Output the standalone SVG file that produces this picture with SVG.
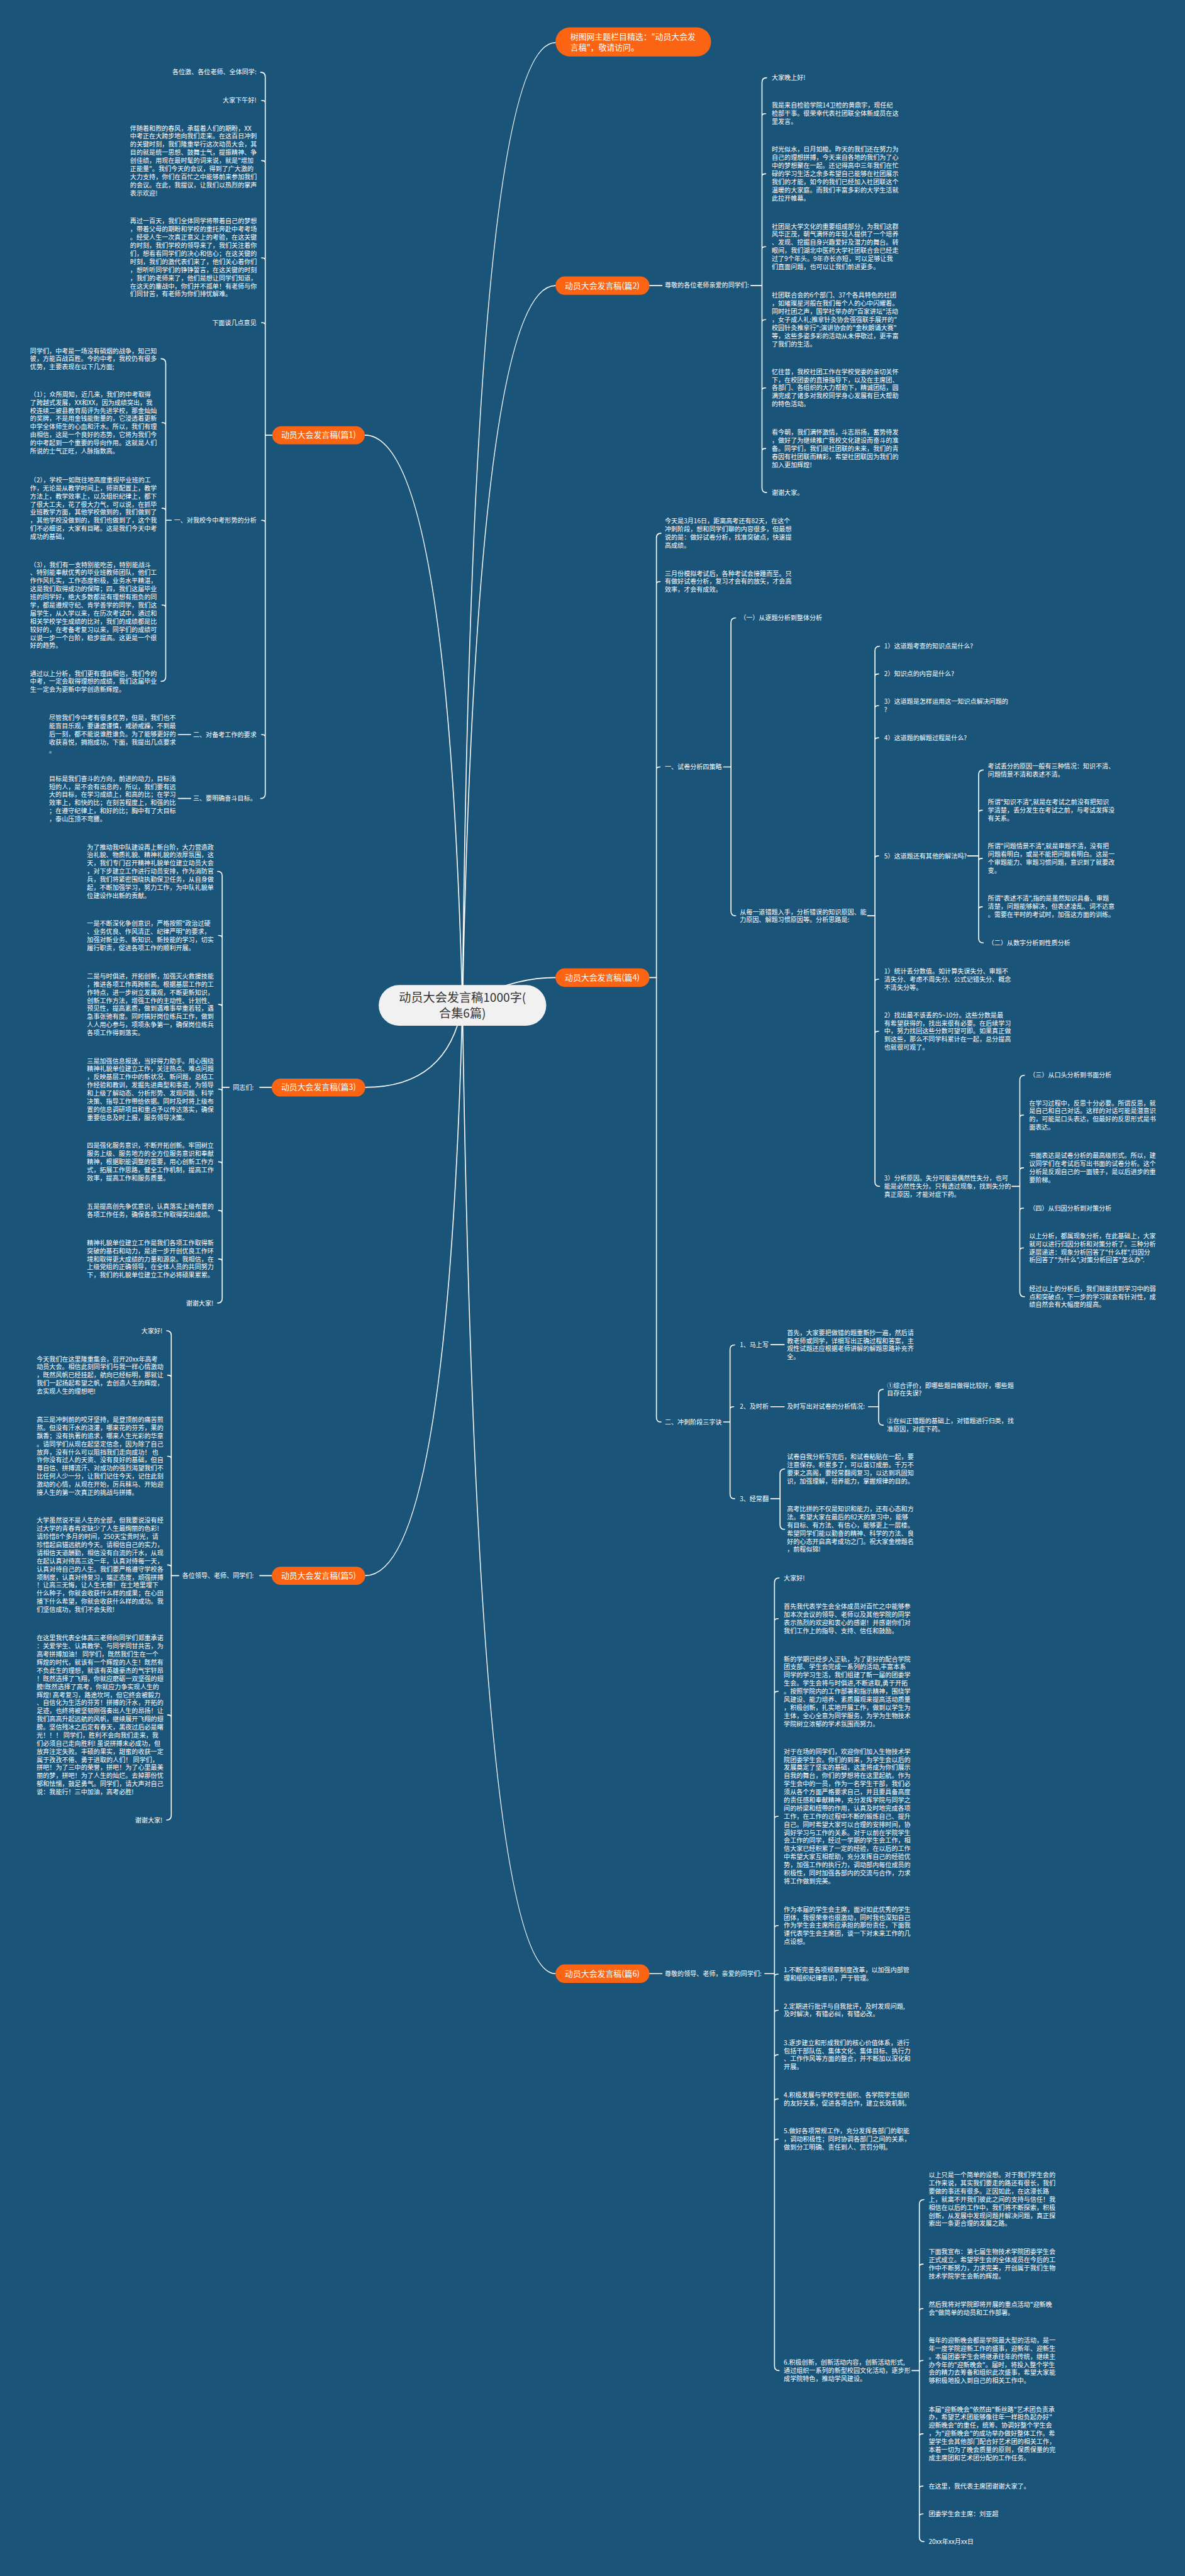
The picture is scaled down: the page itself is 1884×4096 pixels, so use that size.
<svg xmlns="http://www.w3.org/2000/svg" width="1884" height="4096" viewBox="0 0 1884 4096">
<style>
.t{font-family:"Noto Sans CJK SC","Noto Sans",sans-serif;font-size:13.7px;fill:#ffffff}
.e{text-anchor:end}
.n{fill:#fb6412}
.nt{font-family:"Noto Sans CJK SC","Noto Sans",sans-serif;font-size:17.5px;fill:#ffffff;text-anchor:middle}
.c{fill:none;stroke:#ffffff;stroke-width:2.2;stroke-linecap:round}
</style>
<rect x="0" y="0" width="1884" height="4096" fill="#1a5479"/>
<g transform="scale(0.736)">
<g id="connectors">
<path class="c" d="M999,2172 Q1020,92 1200,92"/>
<path class="c" d="M999,2172 Q1030,617 1200,617"/>
<path class="c" d="M999,2172 Q1100,2112 1200,2112"/>
<path class="c" d="M999,2172 Q1030,4264 1200,4264"/>
<path class="c" d="M999,2172 Q967,940 788,940"/>
<path class="c" d="M999,2172 Q967,2349 789,2349"/>
<path class="c" d="M999,2172 Q967,3404 789,3404"/>
<path class="c" d="M588,940 L573,940 M1403,617 L1430,617 M1622,617 L1646,617 M587,2349 L561,2349 M495,2349 L480,2349 M1403,2112 L1418,2112 M587,3404 L561,3404 M386,3404 L370,3404 M1403,4264 L1430,4264 M1652,4264 L1673,4264"/>
<path class="c" d="M370,1124 L358,1124 M412,1587 L385,1587 M412,1725 L385,1725 M1563,1657 L1579,1657 M1874,1978.5 L1890,1978.5 M2090,1849 L2114,1849 M2186,2563 L2203,2563 M1563,3072 L1577,3072 M1665,2905 L1694,2905 M1665,3039 L1694,3039 M1876,3039 L1898,3039 M1665,3238 L1685,3238 M1970,5121.5 L1986,5121.5"/>
<path class="c" d="M1656,168 Q1646,168 1646,178 L1646,1054 Q1646,1064 1656,1064 M1646,250.5 Q1646,245.5 1654,245.5 M1646,380.5 Q1646,375.5 1654,375.5 M1646,538 Q1646,533 1654,533 M1646,695.5 Q1646,690.5 1654,690.5 M1646,843 Q1646,838 1654,838 M1646,974 Q1646,969 1654,969"/>
<path class="c" d="M1428,1152 Q1418,1152 1418,1162 L1418,3062 Q1418,3072 1428,3072 M1418,1261.5 Q1418,1256.5 1426,1256.5 M1418,1662 Q1418,1657 1426,1657"/>
<path class="c" d="M1589,1335 Q1579,1335 1579,1345 L1579,1968.5 Q1579,1978.5 1589,1978.5"/>
<path class="c" d="M1900,1396 Q1890,1396 1890,1406 L1890,2553 Q1890,2563 1900,2563 M1890,1461 Q1890,1456 1898,1456 M1890,1529.5 Q1890,1524.5 1898,1524.5 M1890,1599 Q1890,1594 1898,1594 M1890,1854 Q1890,1849 1898,1849 M1890,2120.5 Q1890,2115.5 1898,2115.5 M1890,2233 Q1890,2228 1898,2228"/>
<path class="c" d="M2124,1663.5 Q2114,1663.5 2114,1673.5 L2114,2027 Q2114,2037 2124,2037 M2114,1755.5 Q2114,1750.5 2122,1750.5 M2114,1859.5 Q2114,1854.5 2122,1854.5 M2114,1964 Q2114,1959 2122,1959"/>
<path class="c" d="M2213,2323 Q2203,2323 2203,2333 L2203,2791.5 Q2203,2801.5 2213,2801.5 M2203,2414 Q2203,2409 2211,2409 M2203,2528 Q2203,2523 2211,2523 M2203,2615 Q2203,2610 2211,2610 M2203,2701 Q2203,2696 2211,2696"/>
<path class="c" d="M1587,2905.5 Q1577,2905.5 1577,2915.5 L1577,3228 Q1577,3238 1587,3238 M1577,3044 Q1577,3039 1585,3039"/>
<path class="c" d="M1908,3001.5 Q1898,3001.5 1898,3011.5 L1898,3069 Q1898,3079 1908,3079"/>
<path class="c" d="M1695,3173.5 Q1685,3173.5 1685,3183.5 L1685,3294 Q1685,3304 1695,3304"/>
<path class="c" d="M1683,3409 Q1673,3409 1673,3419 L1673,5111.5 Q1673,5121.5 1683,5121.5 M1673,3502 Q1673,3497 1681,3497 M1673,3659 Q1673,3654 1681,3654 M1673,3929 Q1673,3924 1681,3924 M1673,4165 Q1673,4160 1681,4160 M1673,4270 Q1673,4265 1681,4265 M1673,4348 Q1673,4343 1681,4343 M1673,4444 Q1673,4439 1681,4439 M1673,4539.5 Q1673,4534.5 1681,4534.5 M1673,4626.5 Q1673,4621.5 1681,4621.5"/>
<path class="c" d="M1996,4752 Q1986,4752 1986,4762 L1986,5481 Q1986,5491 1996,5491 M1986,4896.5 Q1986,4891.5 1994,4891.5 M1986,4992.5 Q1986,4987.5 1994,4987.5 M1986,5104.5 Q1986,5099.5 1994,5099.5 M1986,5263 Q1986,5258 1994,5258 M1986,5376 Q1986,5371 1994,5371 M1986,5436 Q1986,5431 1994,5431"/>
<path class="c" d="M563,156 Q573,156 573,166 L573,1715 Q573,1725 563,1725 M573,222 Q573,217 565,217 M573,352 Q573,347 565,347 M573,562 Q573,557 565,557 M573,702 Q573,697 565,697 M573,1129 Q573,1124 565,1124 M573,1592 Q573,1587 565,1587"/>
<path class="c" d="M348,775 Q358,775 358,785 L358,1462 Q358,1472 348,1472 M358,918 Q358,913 350,913 M358,1103 Q358,1098 350,1098 M358,1312 Q358,1307 350,1307"/>
<path class="c" d="M470,1882.5 Q480,1882.5 480,1892.5 L480,2805 Q480,2815 470,2815 M480,2026 Q480,2021 472,2021 M480,2175 Q480,2170 472,2170 M480,2358 Q480,2353 472,2353 M480,2515 Q480,2510 472,2510 M480,2620 Q480,2615 472,2615 M480,2725 Q480,2720 472,2720"/>
<path class="c" d="M360,2875 Q370,2875 370,2885 L370,3922 Q370,3932 360,3932 M370,2976 Q370,2971 362,2971 M370,3151 Q370,3146 362,3146 M370,3386 Q370,3381 362,3381 M370,3710 Q370,3705 362,3705"/>
</g>
<g id="root">
<rect x="818" y="2128" width="362" height="88" rx="44" fill="#f1f1f1"/>
<text x="999" y="2165" font-family="Noto Sans CJK SC, Noto Sans, sans-serif" font-size="26" fill="#333333" text-anchor="middle"><tspan x="999">动员大会发言稿1000字(</tspan><tspan x="999" dy="34">合集6篇)</tspan></text>
</g>
<g id="topnote">
<rect class="n" x="1200" y="59" width="336" height="63" rx="31"/>
<text class="nt" x="1232" y="85" style="text-anchor:start"><tspan x="1232">树图网主题栏目精选："动员大会发</tspan><tspan x="1232" dy="24">言稿"，敬请访问。</tspan></text>
</g>
<g id="p1"><rect class="n" x="588" y="921" width="200" height="39" rx="19.5"/><text class="nt" x="688" y="946">动员大会发言稿(篇1)</text></g>
<g id="p2"><rect class="n" x="1200" y="597" width="203" height="40" rx="20"/><text class="nt" x="1301" y="623">动员大会发言稿(篇2)</text></g>
<g id="p3"><rect class="n" x="587" y="2330" width="202" height="39" rx="19.5"/><text class="nt" x="688" y="2355">动员大会发言稿(篇3)</text></g>
<g id="p4"><rect class="n" x="1200" y="2092" width="203" height="40" rx="20"/><text class="nt" x="1301" y="2118">动员大会发言稿(篇4)</text></g>
<g id="p5"><rect class="n" x="587" y="3385" width="202" height="39" rx="19.5"/><text class="nt" x="688" y="3410">动员大会发言稿(篇5)</text></g>
<g id="p6"><rect class="n" x="1200" y="4244" width="203" height="40" rx="20"/><text class="nt" x="1301" y="4270">动员大会发言稿(篇6)</text></g>

<g id="p1-texts">
<text class="t e" x="554" y="161">各位激、各位老师、全体同学:</text>
<text class="t e" x="554" y="222">大家下午好!</text>
<text class="t" x="281" y="282"><tspan x="281">伴随着和煦的春风，承载着人们的期盼，XX</tspan><tspan x="281" dy="17.5">中考正在大跨步地向我们走来。在这百日冲刺</tspan><tspan x="281" dy="17.5">的关键时刻，我们隆重举行这次动员大会，其</tspan><tspan x="281" dy="17.5">目的就是统一思想、鼓舞士气，提振精神、争</tspan><tspan x="281" dy="17.5">创佳绩，用现在最时髦的词来说，就是"增加</tspan><tspan x="281" dy="17.5">正能量"。我们今天的会议，得到了广大激的</tspan><tspan x="281" dy="17.5">大力支持，你们在百忙之中能够前来参加我们</tspan><tspan x="281" dy="17.5">的会议。在此，我提议，让我们以热烈的掌声</tspan><tspan x="281" dy="17.5">表示欢迎!</tspan></text>
<text class="t" x="281" y="483"><tspan x="281">再过一百天，我们全体同学将带着自己的梦想</tspan><tspan x="281" dy="17.5">，带着父母的期盼和学校的重托奔赴中考考场</tspan><tspan x="281" dy="17.5">。经受人生一次真正意义上的考验，在这关键</tspan><tspan x="281" dy="17.5">的时刻，我们学校的领导来了，我们关注着你</tspan><tspan x="281" dy="17.5">们，想看看同学们的决心和信心；在这关键的</tspan><tspan x="281" dy="17.5">时刻，我们的激代表们来了，他们关心着你们</tspan><tspan x="281" dy="17.5">，想听听同学们的铮铮誓言，在这关键的时刻</tspan><tspan x="281" dy="17.5">，我们的老师来了，他们是想让同学们知道，</tspan><tspan x="281" dy="17.5">在这天的鏖战中，你们并不孤单！有老师与你</tspan><tspan x="281" dy="17.5">们同甘苦，有老师为你们排忧解难。</tspan></text>
<text class="t e" x="554" y="702">下面谈几点意见</text>
<text class="t e" x="554" y="1129">一、对我校今中考形势的分析</text>
<text class="t e" x="554" y="1592">二、对备考工作的要求</text>
<text class="t e" x="554" y="1730">三、要明确奋斗目标。</text>
<text class="t" x="65" y="763"><tspan x="65">同学们，中考是一场没有硝烟的战争，知己知</tspan><tspan x="65" dy="17.5">彼，方能百战百胜。今的中考，我校仍有很多</tspan><tspan x="65" dy="17.5">优势，主要表现在以下几方面;</tspan></text>
<text class="t" x="65" y="857"><tspan x="65">（1）；众所周知，近几来，我们的中考取得</tspan><tspan x="65" dy="17.5">了跨越式发展，XX和XX，因为成绩突出，我</tspan><tspan x="65" dy="17.5">校连续二被县教育局评为先进学校，那金灿灿</tspan><tspan x="65" dy="17.5">的奖牌，不是用金钱能衡量的，它浸透着更新</tspan><tspan x="65" dy="17.5">中学全体师生的心血和汗水。所以，我们有理</tspan><tspan x="65" dy="17.5">由相信，这是一个良好的态势，它将为我们今</tspan><tspan x="65" dy="17.5">的中考起到一个重要的导向作用。这就是人们</tspan><tspan x="65" dy="17.5">所说的士气正旺，人脉指数高。</tspan></text>
<text class="t" x="65" y="1042"><tspan x="65">（2），学校一如既往地高度重视毕业班的工</tspan><tspan x="65" dy="17.5">作，无论是从教学时间上，师资配置上，教学</tspan><tspan x="65" dy="17.5">方法上，教学效率上，以及组织纪律上，都下</tspan><tspan x="65" dy="17.5">了很大工夫，花了很大力气，可以说，在抓毕</tspan><tspan x="65" dy="17.5">业班教学方面，其他学校做到的，我们做到了</tspan><tspan x="65" dy="17.5">，其他学校没做到的，我们也做到了，这个我</tspan><tspan x="65" dy="17.5">们不必细说，大家有目睹。这是我们今天中考</tspan><tspan x="65" dy="17.5">成功的基础，</tspan></text>
<text class="t" x="65" y="1225"><tspan x="65">（3），我们有一支特别能吃苦，特别能战斗</tspan><tspan x="65" dy="17.5">、特别能奉献优秀的毕业班教师团队，他们工</tspan><tspan x="65" dy="17.5">作作风扎实，工作态度积极，业务水平精湛，</tspan><tspan x="65" dy="17.5">这是我们取得成功的保障；四，我们这届毕业</tspan><tspan x="65" dy="17.5">班的同学好，绝大多数都是有理想有抱负的同</tspan><tspan x="65" dy="17.5">学，都是遵规守纪、肯学善学的同学，我们这</tspan><tspan x="65" dy="17.5">届学生，从入学以来，在历次考试中，通过和</tspan><tspan x="65" dy="17.5">相关学校学生成绩的比对，我们的成绩都是比</tspan><tspan x="65" dy="17.5">较好的，在考备考复习以来，同学们的成绩可</tspan><tspan x="65" dy="17.5">以说一步一个台阶，稳步提高。这更是一个很</tspan><tspan x="65" dy="17.5">好的趋势。</tspan></text>
<text class="t" x="65" y="1460"><tspan x="65">通过以上分析，我们更有理由相信，我们今的</tspan><tspan x="65" dy="17.5">中考，一定会取得理想的成绩，我们这届毕业</tspan><tspan x="65" dy="17.5">生一定会为更新中学创造新辉煌。</tspan></text>
<text class="t" x="106" y="1556"><tspan x="106">尽管我们今中考有很多优势，但是，我们也不</tspan><tspan x="106" dy="17.5">能盲目乐观，要谦虚谨慎，戒骄戒躁，不到最</tspan><tspan x="106" dy="17.5">后一刻，都不能说谁胜谁负。为了能够更好的</tspan><tspan x="106" dy="17.5">收获喜悦，拥抱成功，下面，我提出几点要求</tspan><tspan x="106" dy="17.5">。</tspan></text>
<text class="t" x="106" y="1687"><tspan x="106">目标是我们奋斗的方向，前进的动力，目标浅</tspan><tspan x="106" dy="17.5">短的人，是不会有出息的，所以，我们要有远</tspan><tspan x="106" dy="17.5">大的目标，在学习成绩上，和高的比；在学习</tspan><tspan x="106" dy="17.5">效率上，和快的比；在刻苦程度上，和强的比</tspan><tspan x="106" dy="17.5">；在遵守纪律上，和好的比；胸中有了大目标</tspan><tspan x="106" dy="17.5">，泰山压顶不弯腰。</tspan></text>
</g>

<g id="p3-texts">
<text class="t e" x="548" y="2354">同志们:</text>
<text class="t" x="188" y="1835"><tspan x="188">为了推动我中队建设再上新台阶，大力营造政</tspan><tspan x="188" dy="17.5">治礼貌、物质礼貌、精神礼貌的浓厚氛围，这</tspan><tspan x="188" dy="17.5">天，我们专门召开精神礼貌单位建立动员大会</tspan><tspan x="188" dy="17.5">，对下步建立工作进行动员安排，作为消防官</tspan><tspan x="188" dy="17.5">兵，我们将紧密围绕执勤保卫任务，从自身做</tspan><tspan x="188" dy="17.5">起，不断加强学习，努力工作，为中队礼貌单</tspan><tspan x="188" dy="17.5">位建设作出新的贡献。</tspan></text>
<text class="t" x="188" y="2000"><tspan x="188">一是不断深化争创意识，严格按照"政治过硬</tspan><tspan x="188" dy="17.5">、业务优良、作风清正、纪律严明"的要求，</tspan><tspan x="188" dy="17.5">加强对新业务、新知识、新技能的学习，切实</tspan><tspan x="188" dy="17.5">履行职责，促进各项工作的顺利开展。</tspan></text>
<text class="t" x="188" y="2114"><tspan x="188">二是与时俱进，开拓创新，加强灭火救援技能</tspan><tspan x="188" dy="17.5">，推进各项工作再跨新高。根据基层工作的工</tspan><tspan x="188" dy="17.5">作特点，进一步树立发展观，不断更新知识，</tspan><tspan x="188" dy="17.5">创新工作方法，增强工作的主动性、计划性、</tspan><tspan x="188" dy="17.5">预见性，提高素质，做到遇难事举重若轻，遇</tspan><tspan x="188" dy="17.5">急事张驰有度。同时搞好岗位练兵工作，做到</tspan><tspan x="188" dy="17.5">人人用心参与，项项永争第一，确保岗位练兵</tspan><tspan x="188" dy="17.5">各项工作得到落实。</tspan></text>
<text class="t" x="188" y="2297"><tspan x="188">三是加强信息报送，当好得力助手。用心围绕</tspan><tspan x="188" dy="17.5">精神礼貌单位建立工作，关注热点、难点问题</tspan><tspan x="188" dy="17.5">，反映基层工作中的新状况、新问题，总结工</tspan><tspan x="188" dy="17.5">作经验和教训，发掘先进典型和事迹，为领导</tspan><tspan x="188" dy="17.5">和上级了解动态、分析形势、发现问题、科学</tspan><tspan x="188" dy="17.5">决策、指导工作带给依据。同时及时将上级布</tspan><tspan x="188" dy="17.5">置的信息调研项目和重点予以传达落实，确保</tspan><tspan x="188" dy="17.5">重要信息及时上报，服务领导决策。</tspan></text>
<text class="t" x="188" y="2480"><tspan x="188">四是强化服务意识，不断开拓创新。牢固树立</tspan><tspan x="188" dy="17.5">服务上级、服务地方的全方位服务意识和奉献</tspan><tspan x="188" dy="17.5">精神，根据职能调整的需要，用心创新工作方</tspan><tspan x="188" dy="17.5">式，拓展工作思路，健全工作机制，提高工作</tspan><tspan x="188" dy="17.5">效率，提高工作和服务质量。</tspan></text>
<text class="t" x="188" y="2611"><tspan x="188">五是提高创先争优意识，认真落实上级布置的</tspan><tspan x="188" dy="17.5">各项工作任务，确保各项工作取得突出成绩。</tspan></text>
<text class="t" x="188" y="2690"><tspan x="188">精神礼貌单位建立工作是我们各项工作取得新</tspan><tspan x="188" dy="17.5">突破的基石和动力，是进一步开创优良工作环</tspan><tspan x="188" dy="17.5">境和取得更大成绩的力量和源泉。我相信，在</tspan><tspan x="188" dy="17.5">上级党组的正确领导，在全体人员的共同努力</tspan><tspan x="188" dy="17.5">下，我们的礼貌单位建立工作必将硕果累累。</tspan></text>
<text class="t e" x="461" y="2820">谢谢大家!</text>
</g>

<g id="p5-texts">
<text class="t e" x="548" y="3409">各位领导、老师、同学们:</text>
<text class="t e" x="351" y="2880">大家好!</text>
<text class="t" x="79" y="2941"><tspan x="79">今天我们在这里隆重集会，召开20xx年高考</tspan><tspan x="79" dy="17.5">动员大会。相信此刻同学们与我一样心情激动</tspan><tspan x="79" dy="17.5">，既然风帆已经挂起，航向已经标明，那就让</tspan><tspan x="79" dy="17.5">我们一起扬起希望之帆，去创造人生的辉煌，</tspan><tspan x="79" dy="17.5">去实现人生的理想吧!</tspan></text>
<text class="t" x="79" y="3072"><tspan x="79">高三是冲刺前的咬牙坚持，是登顶前的痛苦煎</tspan><tspan x="79" dy="17.5">熬。但没有汗水的浇灌，哪来花的芬芳，果的</tspan><tspan x="79" dy="17.5">飘香；没有执著的追求，哪来人生光彩的华章</tspan><tspan x="79" dy="17.5">。请同学们从现在起坚定信念，因为除了自己</tspan><tspan x="79" dy="17.5">放弃，没有什么可以阻挡我们走向成功！ 也</tspan><tspan x="79" dy="17.5">许你没有过人的天资、没有良好的基础，但自</tspan><tspan x="79" dy="17.5">尊自信、拼搏流汗、对成功的强烈渴望我们不</tspan><tspan x="79" dy="17.5">比任何人少一分，让我们记住今天，记住此刻</tspan><tspan x="79" dy="17.5">激动的心情，从现在开始，厉兵秣马、开始迎</tspan><tspan x="79" dy="17.5">接人生的第一次真正的挑战与拼搏。</tspan></text>
<text class="t" x="79" y="3290"><tspan x="79">大学虽然说不是人生的全部，但我要说没有经</tspan><tspan x="79" dy="17.5">过大学的青春肯定缺少了人生最绚丽的色彩!</tspan><tspan x="79" dy="17.5">请珍惜8个多月的时间，250天宝贵时光，请</tspan><tspan x="79" dy="17.5">珍惜起启锚远航的今天。请相信自己的实力，</tspan><tspan x="79" dy="17.5">请相信天道酬勤，相信没有白流的汗水，从现</tspan><tspan x="79" dy="17.5">在起认真对待高三这一年，认真对待每一天，</tspan><tspan x="79" dy="17.5">认真对待自己的人生。我们要严格遵守学校各</tspan><tspan x="79" dy="17.5">项制度，认真对待复习，端正态度，顽强拼搏</tspan><tspan x="79" dy="17.5">！让高三无悔，让人生无憾！ 在土地里埋下</tspan><tspan x="79" dy="17.5">什么种子，你就会收获什么样的成果；在心田</tspan><tspan x="79" dy="17.5">播下什么希望，你就会收获什么样的成功。我</tspan><tspan x="79" dy="17.5">们坚信成功，我们不会失败!</tspan></text>
<text class="t" x="79" y="3544"><tspan x="79">在这里我代表全体高三老师向同学们郑重承诺</tspan><tspan x="79" dy="17.5">：关爱学生、认真教学、与同学同甘共苦，为</tspan><tspan x="79" dy="17.5">高考拼搏加油！ 同学们，既然我们生在一个</tspan><tspan x="79" dy="17.5">辉煌的时代，就该有一个辉煌的人生！既然有</tspan><tspan x="79" dy="17.5">不负此生的理想，就该有英雄豪杰的气宇轩昂</tspan><tspan x="79" dy="17.5">！既然选择了飞翔，你就应磨砺一双坚强的翅</tspan><tspan x="79" dy="17.5">膀!既然选择了高考，你就应力争实现人生的</tspan><tspan x="79" dy="17.5">辉煌! 高考复习，路途坎坷，但它终会被毅力</tspan><tspan x="79" dy="17.5">、自信化为生活的芬芳！拼搏的汗水，开拓的</tspan><tspan x="79" dy="17.5">足迹，也终将被坚韧刚强奏出人生的昂扬！让</tspan><tspan x="79" dy="17.5">我们高高升起远航的风帆，继续展开飞翔的翅</tspan><tspan x="79" dy="17.5">膀。坚信残冰之后定有春天，黑夜过后必是曙</tspan><tspan x="79" dy="17.5">光！！！ 同学们，胜利不会向我们走来，我</tspan><tspan x="79" dy="17.5">们必须自己走向胜利! 虽说拼搏未必成功，但</tspan><tspan x="79" dy="17.5">放弃注定失败。丰硕的果实，甜蜜的收获一定</tspan><tspan x="79" dy="17.5">属于孜孜不倦、勇于进取的人们！ 同学们，</tspan><tspan x="79" dy="17.5">拼吧！为了三中的荣誉，拼吧！为了心里最美</tspan><tspan x="79" dy="17.5">丽的梦，拼吧！为了人生的灿烂。去掉那份忧</tspan><tspan x="79" dy="17.5">郁和怯懦，鼓足勇气。同学们，请大声对自己</tspan><tspan x="79" dy="17.5">说：我能行！三中加油，高考必胜!</tspan></text>
<text class="t e" x="351" y="3937">谢谢大家!</text>
</g>

<g id="p2-texts">
<text class="t" x="1436" y="621">尊敬的各位老师亲爱的同学们:</text>
<text class="t" x="1667" y="173">大家晚上好!</text>
<text class="t" x="1667" y="233"><tspan x="1667">我是来自检验学院14卫检的黄鼎宇，现任纪</tspan><tspan x="1667" dy="17.5">检部干事。很荣幸代表社团联全体新成员在这</tspan><tspan x="1667" dy="17.5">里发言。</tspan></text>
<text class="t" x="1667" y="328"><tspan x="1667">时光似水，日月如梭。昨天的我们还在努力为</tspan><tspan x="1667" dy="17.5">自己的理想拼搏，今天来自各地的我们为了心</tspan><tspan x="1667" dy="17.5">中的梦想聚在一起。还记得高中三年我们在忙</tspan><tspan x="1667" dy="17.5">碌的学习生活之余多希望自己能够在社团展示</tspan><tspan x="1667" dy="17.5">我们的才能，如今的我们已经加入社团联这个</tspan><tspan x="1667" dy="17.5">温暖的大家庭。而我们丰富多彩的大学生活就</tspan><tspan x="1667" dy="17.5">此拉开帷幕。</tspan></text>
<text class="t" x="1667" y="494"><tspan x="1667">社团是大学文化的重要组成部分，为我们这群</tspan><tspan x="1667" dy="17.5">风华正茂，朝气满怀的年轻人提供了一个培养</tspan><tspan x="1667" dy="17.5">、发现、挖掘自身兴趣爱好及潜力的舞台。转</tspan><tspan x="1667" dy="17.5">眼间，我们湖北中医药大学社团联合会已经走</tspan><tspan x="1667" dy="17.5">过了9个年头。9年亦长亦短，可以足够让我</tspan><tspan x="1667" dy="17.5">们直面问题，也可以让我们前进更多。</tspan></text>
<text class="t" x="1667" y="643"><tspan x="1667">社团联合会的6个部门、37个各具特色的社团</tspan><tspan x="1667" dy="17.5">，如璀璨星河般在我们每个人的心中闪耀着。</tspan><tspan x="1667" dy="17.5">同时社团之声，国学社举办的"百家讲坛"活动</tspan><tspan x="1667" dy="17.5">，女子成人礼;推拿针灸协会强强联手展开的"</tspan><tspan x="1667" dy="17.5">校园针灸推拿行";演讲协会的"金秋朗诵大赛"</tspan><tspan x="1667" dy="17.5">等，这些多姿多彩的活动从未停歇过，更丰富</tspan><tspan x="1667" dy="17.5">了我们的生活。</tspan></text>
<text class="t" x="1667" y="808"><tspan x="1667">忆往昔，我校社团工作在学校党委的亲切关怀</tspan><tspan x="1667" dy="17.5">下，在校团委的直接指导下，以及在主席团、</tspan><tspan x="1667" dy="17.5">各部门、各组织的大力帮助下，精诚团结，圆</tspan><tspan x="1667" dy="17.5">满完成了诸多对我校同学身心发展有巨大帮助</tspan><tspan x="1667" dy="17.5">的特色活动。</tspan></text>
<text class="t" x="1667" y="939"><tspan x="1667">看今朝，我们满怀激情，斗志昂扬，蓄势待发</tspan><tspan x="1667" dy="17.5">，做好了为继续推广我校文化建设而奋斗的准</tspan><tspan x="1667" dy="17.5">备。同学们，我们是社团联的未来，我们的青</tspan><tspan x="1667" dy="17.5">春因有社团联而精彩，希望社团联因为我们的</tspan><tspan x="1667" dy="17.5">加入更加辉煌!</tspan></text>
<text class="t" x="1667" y="1069">谢谢大家。</text>
</g>

<g id="p4-texts">
<text class="t" x="1436" y="1131"><tspan x="1436">今天是3月16日，距离高考还有82天，在这个</tspan><tspan x="1436" dy="17.5">冲刺阶段，想和同学们聊的内容很多，但最想</tspan><tspan x="1436" dy="17.5">说的是：做好试卷分析，找准突破点，快速提</tspan><tspan x="1436" dy="17.5">高成绩。</tspan></text>
<text class="t" x="1436" y="1244"><tspan x="1436">三月份模拟考试后，各种考试会接踵而至。只</tspan><tspan x="1436" dy="17.5">有做好试卷分析，复习才会有的放矢，才会高</tspan><tspan x="1436" dy="17.5">效率，才会有成效。</tspan></text>
<text class="t" x="1436" y="1662">一、试卷分析四策略</text>
<text class="t" x="1598" y="1340">（一）从逐题分析到整体分析</text>
<text class="t" x="1598" y="1975"><tspan x="1598">从每一道错题入手，分析错误的知识原因、能</tspan><tspan x="1598" dy="17.5">力原因、解题习惯原因等。分析思路是:</tspan></text>
<text class="t" x="1910" y="1401">1）这道题考查的知识点是什么?</text>
<text class="t" x="1910" y="1461">2）知识点的内容是什么?</text>
<text class="t" x="1910" y="1521"><tspan x="1910">3）这道题是怎样运用这一知识点解决问题的</tspan><tspan x="1910" dy="17.5">?</tspan></text>
<text class="t" x="1910" y="1599">4）这道题的解题过程是什么?</text>
<text class="t" x="1910" y="1854">5）这道题还有其他的解法吗?</text>
<text class="t" x="1910" y="2103"><tspan x="1910">1）统计丢分数值。如计算失误失分、审题不</tspan><tspan x="1910" dy="17.5">清失分、考虑不周失分、公式记错失分、概念</tspan><tspan x="1910" dy="17.5">不清失分等。</tspan></text>
<text class="t" x="1910" y="2198"><tspan x="1910">2）找出最不该丢的5~10分。这些分数是最</tspan><tspan x="1910" dy="17.5">有希望获得的，找出来很有必要。在后续学习</tspan><tspan x="1910" dy="17.5">中，努力找回这些分数可望可即。如果真正做</tspan><tspan x="1910" dy="17.5">到这些，那么不同学科累计在一起，总分提高</tspan><tspan x="1910" dy="17.5">也就很可观了。</tspan></text>
<text class="t" x="1910" y="2550"><tspan x="1910">3）分析原因。失分可能是偶然性失分，也可</tspan><tspan x="1910" dy="17.5">能是必然性失分。只有透过现象，找到失分的</tspan><tspan x="1910" dy="17.5">真正原因，才能对症下药。</tspan></text>
<text class="t" x="2134" y="1660"><tspan x="2134">考试丢分的原因一般有三种情况：知识不清、</tspan><tspan x="2134" dy="17.5">问题情景不清和表述不清。</tspan></text>
<text class="t" x="2134" y="1738"><tspan x="2134">所谓"知识不清",就是在考试之前没有把知识</tspan><tspan x="2134" dy="17.5">学清楚，丢分发生在考试之前，与考试发挥没</tspan><tspan x="2134" dy="17.5">有关系。</tspan></text>
<text class="t" x="2134" y="1833"><tspan x="2134">所谓"问题情景不清",就是审题不清，没有把</tspan><tspan x="2134" dy="17.5">问题看明白，或是不能把问题看明白。这是一</tspan><tspan x="2134" dy="17.5">个审题能力、审题习惯问题，意识到了就要改</tspan><tspan x="2134" dy="17.5">变。</tspan></text>
<text class="t" x="2134" y="1946"><tspan x="2134">所谓"表述不清",指的是虽然知识具备、审题</tspan><tspan x="2134" dy="17.5">清楚，问题能够解决，但表述凌乱、词不达意</tspan><tspan x="2134" dy="17.5">。需要在平时的考试时，加强这方面的训练。</tspan></text>
<text class="t" x="2134" y="2042">（二）从数字分析到性质分析</text>
<text class="t" x="2223" y="2328">（三）从口头分析到书面分析</text>
<text class="t" x="2223" y="2388"><tspan x="2223">在学习过程中，反思十分必要。所谓反思，就</tspan><tspan x="2223" dy="17.5">是自己和自己对话。这样的对话可能是潜意识</tspan><tspan x="2223" dy="17.5">的，可能是口头表达，但最好的反思形式是书</tspan><tspan x="2223" dy="17.5">面表达。</tspan></text>
<text class="t" x="2223" y="2502"><tspan x="2223">书面表达是试卷分析的最高级形式。所以，建</tspan><tspan x="2223" dy="17.5">议同学们在考试后写出书面的试卷分析。这个</tspan><tspan x="2223" dy="17.5">分析是反观自己的一面镜子，是以后进步的重</tspan><tspan x="2223" dy="17.5">要阶梯。</tspan></text>
<text class="t" x="2223" y="2615">（四）从归因分析到对策分析</text>
<text class="t" x="2223" y="2675"><tspan x="2223">以上分析，都属现象分析，在此基础上，大家</tspan><tspan x="2223" dy="17.5">就可以进行归因分析和对策分析了。三种分析</tspan><tspan x="2223" dy="17.5">逐层递进：现象分析回答了"什么样",归因分</tspan><tspan x="2223" dy="17.5">析回答了"为什么",对策分析回答"怎么办".</tspan></text>
<text class="t" x="2223" y="2789"><tspan x="2223">经过以上的分析后，我们就能找到学习中的弱</tspan><tspan x="2223" dy="17.5">点和突破点，下一步的学习就会有针对性，成</tspan><tspan x="2223" dy="17.5">绩自然会有大幅度的提高。</tspan></text>
<text class="t" x="1436" y="3077">二、冲刺阶段三字诀</text>
<text class="t" x="1598" y="2910">1、马上写</text>
<text class="t" x="1700" y="2884"><tspan x="1700">首先，大家要把做错的题重新抄一遍，然后请</tspan><tspan x="1700" dy="17.5">教老师或同学，详细写出正确过程和答案，主</tspan><tspan x="1700" dy="17.5">观性试题还应根据老师讲解的解题思路补充齐</tspan><tspan x="1700" dy="17.5">全。</tspan></text>
<text class="t" x="1598" y="3044">2、及时析</text>
<text class="t" x="1700" y="3044">及时写出对试卷的分析情况:</text>
<text class="t" x="1916" y="2998"><tspan x="1916">①综合评价，即哪些题目做得比较好，哪些题</tspan><tspan x="1916" dy="17.5">目存在失误?</tspan></text>
<text class="t" x="1916" y="3075"><tspan x="1916">②在纠正错题的基础上，对错题进行归类，找</tspan><tspan x="1916" dy="17.5">准原因，对症下药。</tspan></text>
<text class="t" x="1598" y="3243">3、经常翻</text>
<text class="t" x="1700" y="3152"><tspan x="1700">试卷自我分析写完后，和试卷粘贴在一起，要</tspan><tspan x="1700" dy="17.5">注意保存。积累多了，可以装订成册。千万不</tspan><tspan x="1700" dy="17.5">要束之高阁，要经常翻阅复习，以达到巩固知</tspan><tspan x="1700" dy="17.5">识，加强理解，培养能力，掌握规律的目的。</tspan></text>
<text class="t" x="1700" y="3265"><tspan x="1700">高考比拼的不仅是知识和能力，还有心态和方</tspan><tspan x="1700" dy="17.5">法。希望大家在最后的82天的复习中，能够</tspan><tspan x="1700" dy="17.5">有目标、有方法、有信心，能够更上一层楼。</tspan><tspan x="1700" dy="17.5">希望同学们能以勤奋的精神、科学的方法、良</tspan><tspan x="1700" dy="17.5">好的心态开启高考成功之门。祝大家金榜题名</tspan><tspan x="1700" dy="17.5">，前程似锦!</tspan></text>
</g>

<g id="p6-texts">
<text class="t" x="1436" y="4269">尊敬的领导、老师，亲爱的同学们:</text>
<text class="t" x="1693" y="3414">大家好!</text>
<text class="t" x="1693" y="3476"><tspan x="1693">首先我代表学生会全体成员对百忙之中能够参</tspan><tspan x="1693" dy="17.5">加本次会议的领导、老师以及其他学院的同学</tspan><tspan x="1693" dy="17.5">表示热烈的欢迎和衷心的感谢！并感谢你们对</tspan><tspan x="1693" dy="17.5">我们工作上的指导、支持、信任和鼓励。</tspan></text>
<text class="t" x="1693" y="3589"><tspan x="1693">新的学期已经步入正轨，为了更好的配合学院</tspan><tspan x="1693" dy="17.5">团支部、学生会完成一系列的活动,丰富本系</tspan><tspan x="1693" dy="17.5">同学的学习生活，我们组建了新一届的团委学</tspan><tspan x="1693" dy="17.5">生会。学生会将与时俱进,不断进取,勇于开拓</tspan><tspan x="1693" dy="17.5">。按照学院内的工作部署和指示精神，围绕学</tspan><tspan x="1693" dy="17.5">风建设、能力培养、素质展现来提高活动质量</tspan><tspan x="1693" dy="17.5">，积极创新，扎实地开展工作，做到以学生为</tspan><tspan x="1693" dy="17.5">主体，全心全意为同学服务，为学为生物技术</tspan><tspan x="1693" dy="17.5">学院树立浓郁的学术氛围而努力。</tspan></text>
<text class="t" x="1693" y="3789"><tspan x="1693">对于在场的同学们，欢迎你们加入生物技术学</tspan><tspan x="1693" dy="17.5">院团委学生会。你们的到来，为学生会以后的</tspan><tspan x="1693" dy="17.5">发展奠定了坚实的基础，这里将成为你们展示</tspan><tspan x="1693" dy="17.5">自我的舞台，你们的梦想将在这里起航。作为</tspan><tspan x="1693" dy="17.5">学生会中的一员，作为一名学生干部，我们必</tspan><tspan x="1693" dy="17.5">须从各个方面严格要求自己，并且要具备高度</tspan><tspan x="1693" dy="17.5">的责任感和奉献精神，充分发挥学院与同学之</tspan><tspan x="1693" dy="17.5">间的桥梁和纽带的作用，认真及时地完成各项</tspan><tspan x="1693" dy="17.5">工作，在工作的过程中不断的锻炼自己、提升</tspan><tspan x="1693" dy="17.5">自己。同时希望大家可以合理的安排时间，协</tspan><tspan x="1693" dy="17.5">调好学习与工作的关系。对于以前在学院学生</tspan><tspan x="1693" dy="17.5">会工作的同学，经过一学期的学生会工作，相</tspan><tspan x="1693" dy="17.5">信大家已经积累了一定的经验，在以后的工作</tspan><tspan x="1693" dy="17.5">中希望大家互相帮助，充分发挥自己的经验优</tspan><tspan x="1693" dy="17.5">势，加强工作的执行力，调动部内每位成员的</tspan><tspan x="1693" dy="17.5">积极性，同时加强各部内的交流与合作，力求</tspan><tspan x="1693" dy="17.5">将工作做到完美。</tspan></text>
<text class="t" x="1693" y="4130"><tspan x="1693">作为本届的学生会主席，面对如此优秀的学生</tspan><tspan x="1693" dy="17.5">团体，我很荣幸也很激动，同时我也深知自己</tspan><tspan x="1693" dy="17.5">作为学生会主席所应承担的那份责任，下面我</tspan><tspan x="1693" dy="17.5">谨代表学生会主席团，谈一下对未来工作的几</tspan><tspan x="1693" dy="17.5">点设想。</tspan></text>
<text class="t" x="1693" y="4261"><tspan x="1693">1.不断完善各项规章制度改革，以加强内部管</tspan><tspan x="1693" dy="17.5">理和组织纪律意识，严于管理。</tspan></text>
<text class="t" x="1693" y="4339"><tspan x="1693">2.定期进行批评与自我批评，及时发现问题,</tspan><tspan x="1693" dy="17.5">及时解决，有错必纠，有错必改。</tspan></text>
<text class="t" x="1693" y="4418"><tspan x="1693">3.逐步建立和形成我们的核心价值体系，进行</tspan><tspan x="1693" dy="17.5">包括干部队伍、集体文化、集体目标、执行力</tspan><tspan x="1693" dy="17.5">、工作作风等方面的整合，并不断加以深化和</tspan><tspan x="1693" dy="17.5">开展。</tspan></text>
<text class="t" x="1693" y="4531"><tspan x="1693">4.积极发展与学校学生组织、各学院学生组织</tspan><tspan x="1693" dy="17.5">的友好关系，促进各项合作，建立长效机制。</tspan></text>
<text class="t" x="1693" y="4609"><tspan x="1693">5.做好各项常规工作，充分发挥各部门的职能</tspan><tspan x="1693" dy="17.5">，调动积极性；同时协调各部门之间的关系，</tspan><tspan x="1693" dy="17.5">做到分工明确、责任到人、赏罚分明。</tspan></text>
<text class="t" x="1693" y="5109"><tspan x="1693">6.积极创新，创新活动内容，创新活动形式,</tspan><tspan x="1693" dy="17.5">通过组织一系列的新型校园文化活动，逐步形</tspan><tspan x="1693" dy="17.5">成学院特色，推动学风建设。</tspan></text>
<text class="t" x="2006" y="4704"><tspan x="2006">以上只是一个简单的设想。对于我们学生会的</tspan><tspan x="2006" dy="17.5">工作来说，其实我们要走的路还有很长，我们</tspan><tspan x="2006" dy="17.5">要做的事还有很多。正因如此，在这漫长路</tspan><tspan x="2006" dy="17.5">上，就离不开我们彼此之间的支持与信任！我</tspan><tspan x="2006" dy="17.5">相信在以后的工作中，我们将不断探索，积极</tspan><tspan x="2006" dy="17.5">创新，从发展中发现问题并解决问题，真正探</tspan><tspan x="2006" dy="17.5">索出一条更合理的发展之路。</tspan></text>
<text class="t" x="2006" y="4870"><tspan x="2006">下面我宣布：第七届生物技术学院团委学生会</tspan><tspan x="2006" dy="17.5">正式成立。希望学生会的全体成员在今后的工</tspan><tspan x="2006" dy="17.5">作中不断努力，力求完美，开创属于我们生物</tspan><tspan x="2006" dy="17.5">技术学院学生会新的辉煌。</tspan></text>
<text class="t" x="2006" y="4984"><tspan x="2006">然后我将对学院即将开展的重点活动"迎新晚</tspan><tspan x="2006" dy="17.5">会"做简单的动员和工作部署。</tspan></text>
<text class="t" x="2006" y="5061"><tspan x="2006">每年的迎新晚会都是学院最大型的活动，是一</tspan><tspan x="2006" dy="17.5">年一度学院迎新工作的盛事，迎新年、迎新生</tspan><tspan x="2006" dy="17.5">。本届团委学生会将继承往年的传统，继续主</tspan><tspan x="2006" dy="17.5">办今年的"迎新晚会"。届时，将投入整个学生</tspan><tspan x="2006" dy="17.5">会的精力去筹备和组织此次盛事，希望大家能</tspan><tspan x="2006" dy="17.5">够积极地投入到自己的相关工作中。</tspan></text>
<text class="t" x="2006" y="5210"><tspan x="2006">本届"迎新晚会"依然由"新丝路"艺术团负责承</tspan><tspan x="2006" dy="17.5">办，希望艺术团能够像往年一样担负起办好"</tspan><tspan x="2006" dy="17.5">迎新晚会"的重任，统筹、协调好整个学生会</tspan><tspan x="2006" dy="17.5">，为"迎新晚会"的成功举办做好整体工作。希</tspan><tspan x="2006" dy="17.5">望学生会其他部门配合好艺术团的相关工作，</tspan><tspan x="2006" dy="17.5">本着一切为了晚会质量的原则，保质保量的完</tspan><tspan x="2006" dy="17.5">成主席团和艺术团分配的工作任务。</tspan></text>
<text class="t" x="2006" y="5376">在这里，我代表主席团谢谢大家了。</text>
<text class="t" x="2006" y="5436">团委学生会主席：刘亚超</text>
<text class="t" x="2006" y="5496">20xx年xx月xx日</text>
</g>
</g>
</svg>
